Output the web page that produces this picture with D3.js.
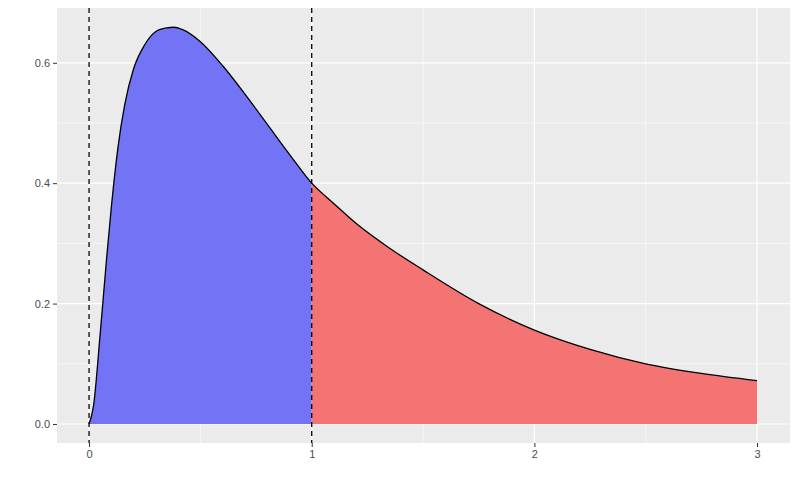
<!DOCTYPE html>
<html><head><meta charset="utf-8">
<script src="https://cdn.jsdelivr.net/npm/d3@7"></script>
<style>body{margin:0;background:#fff}text{font-family:"Liberation Sans",Arial,sans-serif}</style>
</head><body><svg id="c" width="800" height="494"></svg>
<script>
const xs = [0,0.02,0.05,0.08,0.1,0.13,0.16,0.2,0.25,0.3,0.35,0.38,0.42,0.5,0.6,0.7,0.8,0.9,1.0,1.1,1.2,1.35,1.5,1.75,2.0,2.25,2.5,2.75,3.0];
const ys = [0,0.03,0.15,0.28,0.36,0.46,0.53,0.59,0.63,0.652,0.658,0.659,0.655,0.635,0.595,0.548,0.498,0.448,0.40,0.366,0.333,0.292,0.256,0.2,0.156,0.124,0.1,0.084,0.072];
const xTicks = [0,1,2,3];
const yTicks = [0,0.2,0.4,0.6];
const cutoffs = [0,1];

const svg = d3.select("#c");
const L=57,R=790,T=8,B=443;
const x = d3.scaleLinear().domain([-0.144,3.148]).range([L,R]);
const y = d3.scaleLinear().domain([-0.0316,0.691]).range([B,T]);
svg.append("rect").attr("x",L).attr("y",T).attr("width",R-L).attr("height",B-T).attr("fill","#EBEBEB");
const minorX=[0.5,1.5,2.5], minorY=[0.1,0.3,0.5];
minorX.forEach(v=>svg.append("line").attr("x1",x(v)).attr("x2",x(v)).attr("y1",T).attr("y2",B).attr("stroke","#fff").attr("stroke-width",0.6));
minorY.forEach(v=>svg.append("line").attr("y1",y(v)).attr("y2",y(v)).attr("x1",L).attr("x2",R).attr("stroke","#fff").attr("stroke-width",0.6));
xTicks.forEach(v=>svg.append("line").attr("x1",x(v)).attr("x2",x(v)).attr("y1",T).attr("y2",B).attr("stroke","#fff").attr("stroke-width",1.2));
yTicks.forEach(v=>svg.append("line").attr("y1",y(v)).attr("y2",y(v)).attr("x1",L).attr("x2",R).attr("stroke","#fff").attr("stroke-width",1.2));

const pts = xs.map((v,i)=>[v,ys[i]]);
const area = d3.area().x(d=>x(d[0])).y0(y(0)).y1(d=>y(d[1])).curve(d3.curveMonotoneX);
svg.append("path").datum(pts.filter(d=>d[0]<=1)).attr("d",area).attr("fill","#7373F5");
svg.append("path").datum(pts.filter(d=>d[0]>=1)).attr("d",area).attr("fill","#F47474");
svg.append("path").datum(pts).attr("d",d3.line().x(d=>x(d[0])).y(d=>y(d[1])).curve(d3.curveMonotoneX)).attr("fill","none").attr("stroke","#000").attr("stroke-width",1.3);
cutoffs.forEach(v=>svg.append("line").attr("x1",x(v)).attr("x2",x(v)).attr("y1",T).attr("y2",B).attr("stroke","#000").attr("stroke-width",1.3).attr("stroke-dasharray","5,4"));

const xa = svg.append("g").attr("transform",`translate(0,${B})`).call(d3.axisBottom(x).tickValues(xTicks).tickFormat(d3.format("d")).tickSize(4).tickPadding(3));
const ya = svg.append("g").attr("transform",`translate(${L},0)`).call(d3.axisLeft(y).tickValues(yTicks).tickFormat(d3.format(".1f")).tickSize(4).tickPadding(3));
[xa,ya].forEach(a=>{a.select(".domain").remove();a.selectAll("line").attr("stroke","#333");a.selectAll("text").attr("fill","#4D4D4D").style("font-size","11px");});
</script></body></html>
